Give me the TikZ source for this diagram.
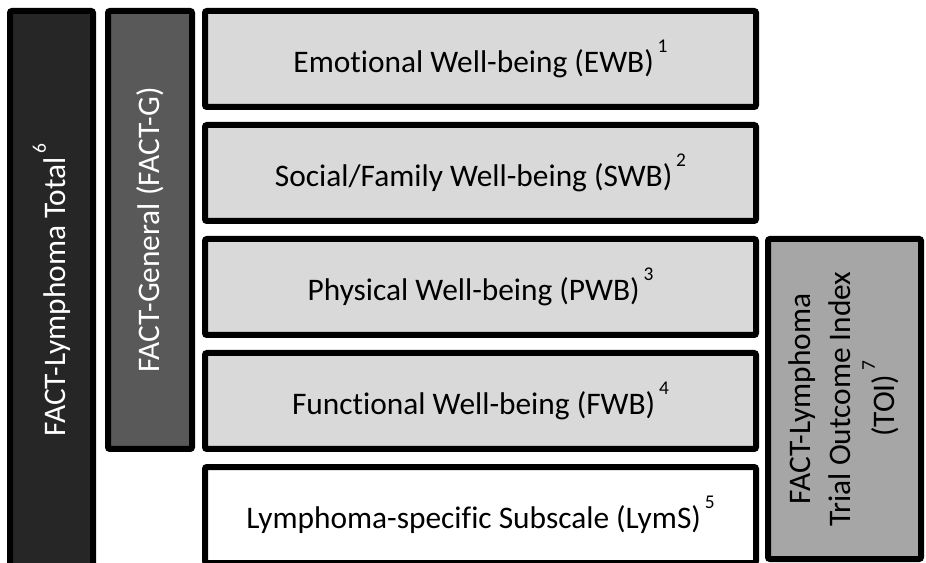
\documentclass[tikz,border=0pt]{standalone}
\usepackage{fontspec}
\setmainfont{Carlito}[Ligatures=NoCommon]
\usetikzlibrary{positioning}
\definecolor{totalfill}{HTML}{262626}
\definecolor{generalfill}{HTML}{595959}
\definecolor{subfill}{HTML}{D9D9D9}
\definecolor{toifill}{HTML}{A6A6A6}
\newcommand{\supmark}[1]{\hspace{0.12em}\raisebox{0.62em}{\fontsize{19.5}{19.5}\selectfont #1}}
\tikzset{block/.style={draw=black, line width=6bp, rounded corners=2bp, inner sep=0pt,
                       font=\fontsize{31.5}{40}\selectfont},
         subscale/.style={block, fill=subfill, minimum width=551bp, minimum height=96bp}}

\begin{document}
\begin{tikzpicture}[x=1bp,y=1bp]
    \useasboundingbox (0,0) rectangle (926,563);
    \node[block, fill=totalfill, text=white, minimum width=83bp, minimum height=558bp, anchor=north west] (total) at (7,555)
        {\rotatebox{90}{FACT-Lymphoma Total\supmark{6}}};
    \node[block, fill=generalfill, text=white, minimum width=84bp, minimum height=438bp]
        (general) [right=9bp of total.north east, anchor=north west] {\rotatebox{90}{FACT-General (FACT-G)}};
    \node[subscale] (ewb) [right=7bp of general.north east, anchor=north west] {Emotional Well-being (EWB)\supmark{1}};
    \node[subscale] (swb) [below=12bp of ewb] {Social/Family Well-being (SWB)\supmark{2}};
    \node[subscale] (pwb) [below=12bp of swb] {Physical Well-being (PWB)\supmark{3}};
    \node[subscale] (fwb) [below=12bp of pwb] {Functional Well-being (FWB)\supmark{4}};
    \node[subscale, fill=white] (lyms) [below=12bp of fwb] {Lymphoma-specific Subscale (LymS)\supmark{5}};
    \node[block, fill=toifill, minimum width=153bp, minimum height=320bp]
        (toi) [right=6bp of pwb.north east, anchor=north west]
        {\rotatebox{90}{\begin{tabular}{@{}c@{}}FACT-Lymphoma\\Trial Outcome Index\\(TOI)\supmark{7}\end{tabular}}};
\end{tikzpicture}
\end{document}
